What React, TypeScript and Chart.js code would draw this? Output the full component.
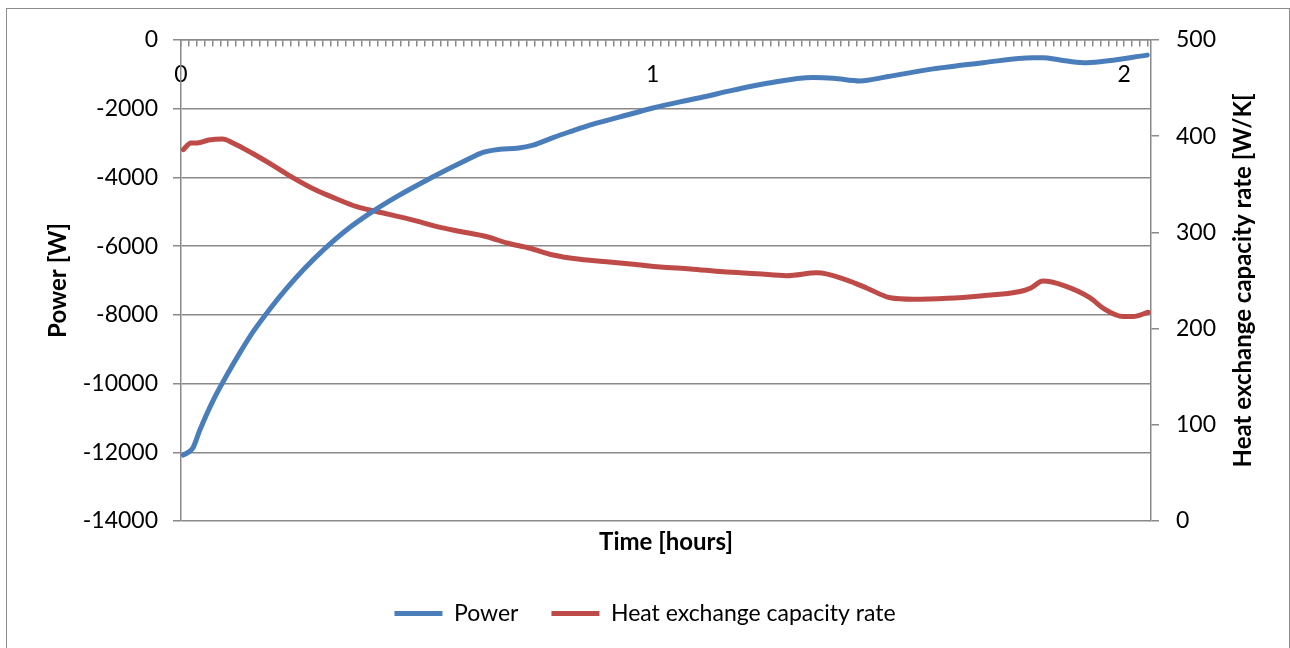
import React, { useEffect, useRef } from 'react';
import { Chart, registerables } from 'chart.js';

Chart.register(...registerables);

// ---- data ----
const powerTimeHours = [0.005, 0.025, 0.040, 0.0685, 0.097, 0.125, 0.153, 0.189, 0.224, 0.259, 0.302, 0.351, 0.401, 0.4575, 0.521, 0.549, 0.599, 0.6405, 0.6765, 0.7125, 0.7466, 0.789, 0.825, 0.874, 0.931, 1.001, 1.058, 1.1007, 1.171, 1.243, 1.340, 1.383, 1.440, 1.497, 1.595, 1.701, 1.807, 1.828, 1.864, 1.913, 1.949, 2.049];
const powerWatts = [-12080, -11880, -11350, -10480, -9760, -9100, -8490, -7820, -7230, -6695, -6110, -5530, -5040, -4560, -4080, -3880, -3540, -3270, -3180, -3150, -3060, -2840, -2670, -2450, -2240, -1980, -1800, -1680, -1460, -1260, -1090, -1110, -1190, -1070, -840, -660, -515, -515, -580, -660, -630, -440];

const hecrTimeHours = [0.005, 0.021, 0.035, 0.059, 0.088, 0.110, 0.152, 0.194, 0.237, 0.286, 0.329, 0.371, 0.439, 0.507, 0.543, 0.592, 0.649, 0.691, 0.740, 0.789, 0.846, 0.903, 0.959, 1.016, 1.080, 1.150, 1.222, 1.285, 1.349, 1.412, 1.455, 1.504, 1.553, 1.625, 1.695, 1.779, 1.801, 1.828, 1.871, 1.928, 1.956, 1.998, 2.019, 2.051];
const hecrWK = [386, 393, 393, 396, 397, 393, 382, 370, 357, 344, 335, 327, 319, 311, 306, 301, 295.5, 289, 283.5, 276.5, 272, 269.5, 267, 264, 262, 259, 257, 255, 258, 250.5, 242, 232, 230.5, 231.5, 234, 238.5, 242, 249.5, 245, 232, 221, 212.5, 212.5, 217];

const seriesNames = ['Power', 'Heat exchange capacity rate'];
const axisTitles = { x: 'Time [hours]', y: 'Power [W]', y2: 'Heat exchange capacity rate [W/K[' };

const X_MIN = 0;
const X_MAX = 2.057;
const X_MINOR_PER_HOUR = 60;
const Y_MIN = -14000;
const Y_MAX = 0;
const Y_STEP = 2000;
const Y2_MIN = 0;
const Y2_MAX = 500;
const Y2_STEP = 100;

// ---- styles ----
const FONT = 'Lato';
const GRID = '#898989';
const BLUE = '#4A7EBB';
const RED = '#BE4B48';

const rightTitlePlugin = {
  id: 'rightTitle',
  afterDraw(chart: any) {
    const s = chart.scales.y2;
    if (!s) return;
    const ctx = chart.ctx;
    ctx.save();
    ctx.translate(s.right - 47, (s.top + s.bottom) / 2);
    ctx.rotate(-Math.PI / 2);
    ctx.font = `bold 24px ${FONT}`;
    ctx.fillStyle = '#000';
    ctx.textAlign = 'center';
    ctx.textBaseline = 'middle';
    ctx.fillText(axisTitles.y2, 0, 0);
    ctx.restore();
  },
};

export default function App() {
  const canvasRef = useRef<HTMLCanvasElement | null>(null);

  useEffect(() => {
    if (!canvasRef.current) return;
    const tickFont = { family: FONT, size: 23 };
    const titleFont = { family: FONT, size: 24, weight: 'bold' as const };
    const chart = new Chart(canvasRef.current, {
      type: 'line',
      data: {
        datasets: [
          {
            label: seriesNames[0],
            data: powerTimeHours.map((t, i) => ({ x: t, y: powerWatts[i] })),
            borderColor: BLUE,
            backgroundColor: BLUE,
            borderWidth: 5,
            borderCapStyle: 'round',
            pointRadius: 0,
            pointStyle: 'line',
            cubicInterpolationMode: 'monotone',
            xAxisID: 'x',
            yAxisID: 'y',
          },
          {
            label: seriesNames[1],
            data: hecrTimeHours.map((t, i) => ({ x: t, y: hecrWK[i] })),
            borderColor: RED,
            backgroundColor: RED,
            borderWidth: 5,
            borderCapStyle: 'round',
            pointRadius: 0,
            pointStyle: 'line',
            cubicInterpolationMode: 'monotone',
            xAxisID: 'x',
            yAxisID: 'y2',
          },
        ],
      } as any,
      options: {
        animation: false,
        responsive: false,
        maintainAspectRatio: false,
        layout: { padding: { top: 40, left: 0, right: 0, bottom: 13 } },
        plugins: {
          legend: {
            position: 'bottom',
            labels: {
              usePointStyle: true,
              pointStyleWidth: 48,
              padding: 33,
              color: '#000',
              font: tickFont,
            },
          },
          tooltip: { enabled: false },
        },
        scales: {
          x: {
            type: 'linear',
            axis: 'x',
            position: { y: 0 },
            min: X_MIN,
            max: X_MAX,
            afterBuildTicks: (scale: any) => {
              const ticks = [];
              const n = Math.floor(X_MAX * X_MINOR_PER_HOUR + 1e-9);
              for (let i = 0; i <= n; i++) ticks.push({ value: i / X_MINOR_PER_HOUR });
              scale.ticks = ticks;
            },
            ticks: {
              autoSkip: false,
              maxRotation: 0,
              minRotation: 0,
              padding: 15,
              color: '#000',
              font: tickFont,
              callback: (v: any) => {
                const n = Number(v);
                return Math.abs(n - Math.round(n)) < 1e-6 ? String(Math.round(n)) : '';
              },
            },
            grid: { drawOnChartArea: false, drawTicks: true, tickLength: 6, color: GRID, lineWidth: 1.5 },
            border: { display: true, color: GRID, width: 1.5 },
          },
          x2: {
            type: 'linear',
            axis: 'x',
            position: 'bottom',
            display: true,
            min: 0,
            max: 1,
            ticks: { display: false },
            grid: { display: false, drawTicks: false },
            border: { display: false },
            title: { display: true, text: axisTitles.x, color: '#000', font: titleFont, padding: { top: 0, bottom: 12 } },
            afterFit: (s: any) => { s.height = 48; },
          },
          y: {
            type: 'linear',
            position: 'left',
            min: Y_MIN,
            max: Y_MAX,
            ticks: { stepSize: Y_STEP, padding: 15, color: '#000', font: tickFont, callback: (v: any) => String(v) },
            grid: { color: GRID, lineWidth: 1.5, tickLength: 8, drawTicks: true },
            border: { color: GRID, width: 1.5 },
            title: { display: true, text: axisTitles.y, color: '#000', font: titleFont, padding: { top: 44, bottom: 0 } },
            afterFit: (s: any) => { s.width = 181; },
          },
          y2: {
            type: 'linear',
            position: 'right',
            min: Y2_MIN,
            max: Y2_MAX,
            ticks: { stepSize: Y2_STEP, padding: 17, color: '#000', font: tickFont, callback: (v: any) => String(v) },
            grid: { drawOnChartArea: false, color: GRID, lineWidth: 1.5, tickLength: 8, drawTicks: true },
            border: { color: GRID, width: 1.5 },
            afterFit: (s: any) => { s.width = 139; },
          },
        },
      } as any,
      plugins: [rightTitlePlugin],
    });
    return () => chart.destroy();
  }, []);

  return (
    <div style={{ position: 'fixed', left: 0, top: 0, width: 1290, height: 648, overflow: 'hidden', background: '#fff' }}>
      <div
        style={{
          position: 'absolute',
          left: 6,
          top: 8,
          width: 1284,
          height: 700,
          boxSizing: 'border-box',
          border: '1px solid #8c8c8c',
        }}
      />
      <canvas ref={canvasRef} width={1290} height={648} style={{ position: 'absolute', left: 0, top: 0 }} />
    </div>
  );
}
